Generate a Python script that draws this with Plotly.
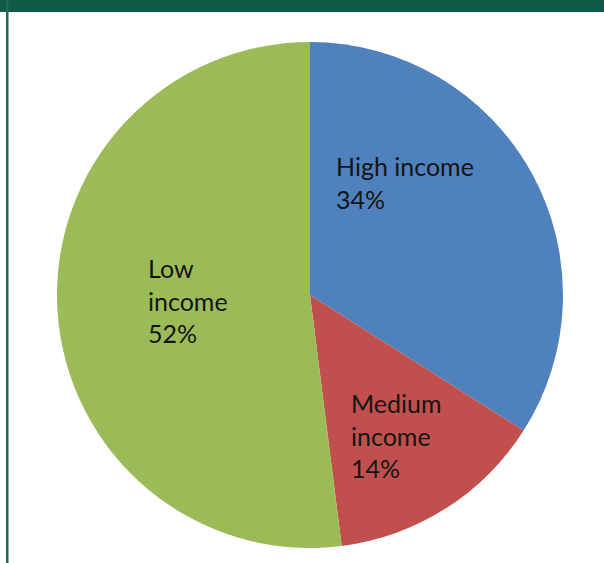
import plotly.graph_objects as go

labels = ["High income", "Medium income", "Low income"]
values = [34, 14, 52]
colors = ["#4F81BD", "#C0504D", "#9BBB59"]
label_texts = ["High income<br>34%", "Medium<br>income<br>14%", "Low<br>income<br>52%"]

W, H = 604, 563
cx, cy, r = 310, 295, 253

fig = go.Figure(go.Pie(
    labels=labels, values=values, sort=False, direction="clockwise", rotation=0,
    marker=dict(colors=colors, line=dict(width=0)),
    textinfo="none", hoverinfo="label+percent", showlegend=False,
    domain=dict(x=[(cx - r) / W, (cx + r) / W], y=[1 - (cy + r) / H, 1 - (cy - r) / H]),
))

# label anchors (top-left, pixels)
label_pos = [(334, 149), (349, 386), (146, 251)]
for txt, (px, py) in zip(label_texts, label_pos):
    fig.add_annotation(x=px / W, y=1 - py / H, xref="paper", yref="paper",
                       xanchor="left", yanchor="top", align="left", showarrow=False,
                       text=txt, font=dict(family="Lato", size=25, color="#151515"))

fig.add_shape(type="rect", xref="paper", yref="paper", x0=0, x1=1, y0=1 - 12 / H, y1=1,
              fillcolor="#105A48", line=dict(width=0), layer="above")
fig.add_shape(type="rect", xref="paper", yref="paper", x0=6 / W, x1=8.5 / W, y0=0, y1=1,
              fillcolor="#1E6B55", line=dict(width=0), layer="above")

fig.update_layout(width=W, height=H, margin=dict(l=0, r=0, t=0, b=0),
                  paper_bgcolor="white", plot_bgcolor="white")
fig.write_html("out.html", config={"displayModeBar": False},
               post_script="document.body.style.margin='0';document.body.style.overflow='hidden';")
